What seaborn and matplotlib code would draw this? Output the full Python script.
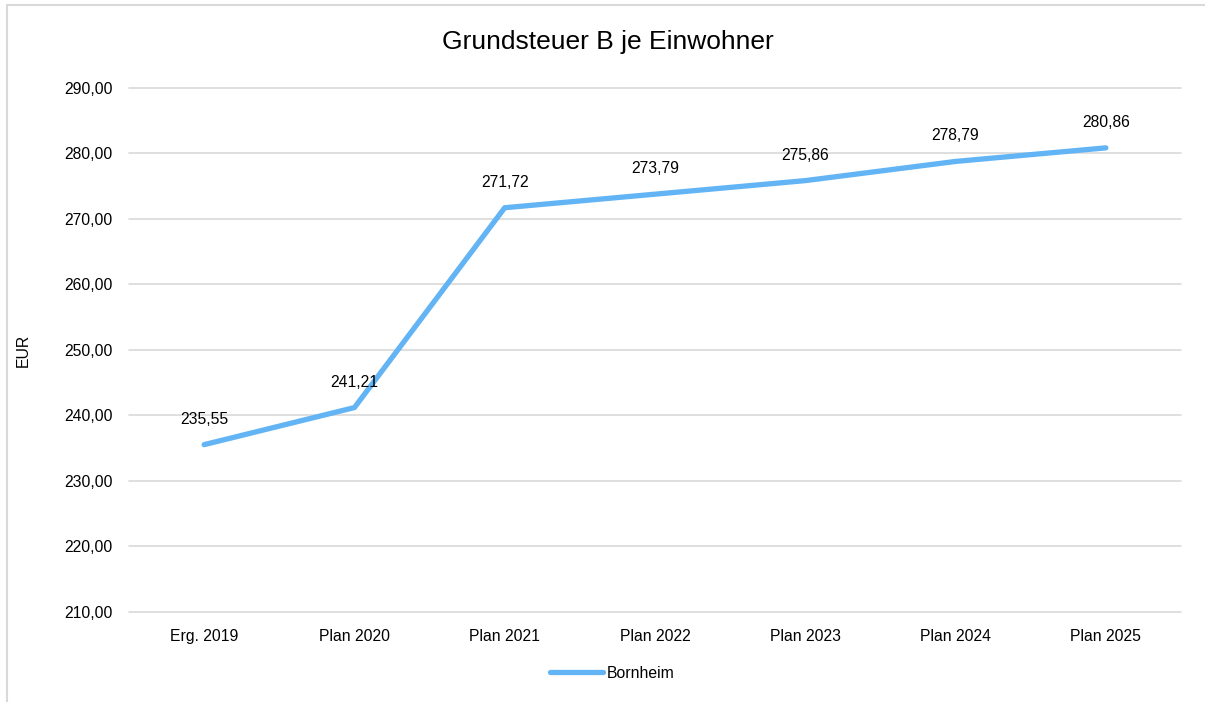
import matplotlib.pyplot as plt
import seaborn as sns
import pandas as pd

# Daten
categories = ["Erg. 2019", "Plan 2020", "Plan 2021", "Plan 2022", "Plan 2023", "Plan 2024", "Plan 2025"]
values = [235.55, 241.21, 271.72, 273.79, 275.86, 278.79, 280.86]
series_name = "Bornheim"
y_ticks = [210, 220, 230, 240, 250, 260, 270, 280, 290]

df = pd.DataFrame({"Jahr": categories, "EUR": values, "Gemeinde": series_name})
df["pos"] = range(len(categories))

sns.set_theme(style="white")
plt.rcParams["font.family"] = ["Liberation Sans", "DejaVu Sans"]
plt.rcParams["text.color"] = "black"
plt.rcParams["xtick.color"] = "black"
plt.rcParams["ytick.color"] = "black"
plt.rcParams["axes.labelcolor"] = "black"

fig = plt.figure(figsize=(12.05, 7.02), dpi=100)
ax = fig.add_axes([129 / 1205, 1 - 612 / 702, (1181 - 129) / 1205, (612 - 88) / 702])

# Rahmen um das Diagramm (rechts und unten abgeschnitten)
fig.patches.append(plt.Rectangle((7 / 1205, -0.05), 1.1, 1 - 5 / 702 + 0.05,
                                 transform=fig.transFigure, fill=False,
                                 edgecolor="#d9d9d9", linewidth=1.5))

sns.lineplot(data=df, x="pos", y="EUR", hue="Gemeinde", palette=["#63b4f4"],
             linewidth=3.8, ax=ax, solid_capstyle="round", legend=True)

for x, v in zip(df["pos"], values):
    ax.annotate(f"{v:.2f}".replace(".", ","), (x, v), xytext=(0, 13),
                textcoords="offset points", ha="center", va="bottom", fontsize=11.3, color="black")

ax.set_xlim(-0.5, len(categories) - 0.5)
ax.set_ylim(210, 290)
ax.set_xticks(df["pos"])
ax.set_xticklabels(categories, fontsize=11.3)
ax.set_yticks(y_ticks)
ax.set_yticklabels([f"{t:.2f}".replace(".", ",") for t in y_ticks], fontsize=11.3)
ax.tick_params(axis="both", length=0, pad=12)
ax.grid(axis="y", color="#d9d9d9", linewidth=1.2)
for gl in ax.get_ygridlines():
    gl.set_clip_on(False)
ax.set_axisbelow(True)
for s in ax.spines.values():
    s.set_visible(False)

ax.set_xlabel("")
ax.set_ylabel("EUR", fontsize=11.3)
ax.yaxis.set_label_coords(-98 / 1052, 0.5)

fig.text(608 / 1205, 1 - 42 / 702, "Grundsteuer B je Einwohner", ha="center", va="center", fontsize=19)

handles, labels = ax.get_legend_handles_labels()
keep = [(h, l) for h, l in zip(handles, labels) if l == series_name]
leg = ax.legend([k[0] for k in keep], [k[1] for k in keep], loc="center",
                bbox_to_anchor=((612 - 129) / 1052, (612 - 673) / 524), frameon=False,
                fontsize=11.3, handlelength=3.4, handletextpad=0.2)
for line in leg.get_lines():
    line.set_linewidth(3.8)
    line.set_solid_capstyle("round")

fig.savefig("out.png", dpi=100)
